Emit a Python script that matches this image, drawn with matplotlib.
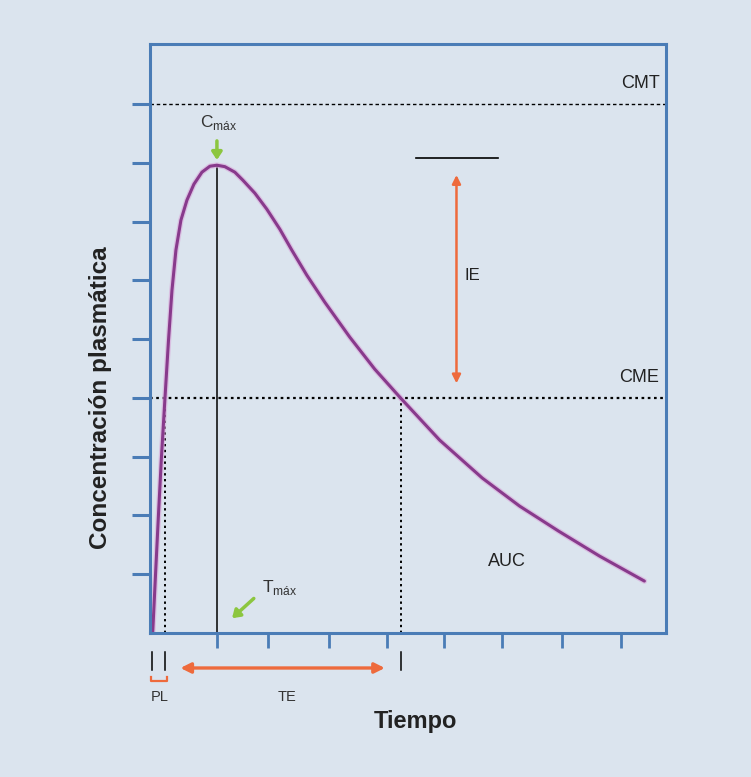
"""Curva de concentración plasmática tras una dosis: CMT, CME, Cmáx, Tmáx, PL, TE, IE, AUC."""
import matplotlib

matplotlib.use("Agg")
import matplotlib.pyplot as plt

tiempo = [0.046, 0.093, 0.144, 0.195, 0.255, 0.314, 0.374, 0.441, 0.526, 0.628, 0.747,
          0.883, 1.019, 1.138, 1.273, 1.443, 1.579, 1.783, 1.986, 2.207, 2.411, 2.666,
          2.971, 3.396, 3.820, 4.261, 4.924, 5.649, 6.282, 6.944, 7.640, 8.404]
concentracion = [0.0, 0.969, 2.007, 2.993, 3.997, 4.966, 5.833, 6.514, 7.024, 7.364, 7.636,
                 7.840, 7.942, 7.959, 7.934, 7.840, 7.704, 7.483, 7.211, 6.871, 6.514, 6.088,
                 5.629, 5.034, 4.490, 3.997, 3.282, 2.636, 2.160, 1.735, 1.310, 0.884]

# Niveles y tiempos característicos
CMT = 9.0
CME = 4.0
C_MAX = 7.96
T_MAX = 1.138
T_LATENCIA = 0.03     # inicio de la curva
T_CME_SUBE = 0.255    # cruce con CME al subir
T_CME_BAJA = 4.27     # cruce con CME al bajar

y_ticks = [1, 2, 3, 4, 5, 6, 7, 8, 9]
x_ticks = [1.138, 2.0, 3.04, 4.03, 4.99, 5.99, 7.0, 8.01]

FONDO = "#dbe4ee"
AZUL = "#4a7cb6"
MORADO = "#883a8c"
NARANJA = "#ee6a3c"
VERDE = "#8cc63f"

plt.rcParams["font.family"] = ["Liberation Sans", "DejaVu Sans"]

fig = plt.figure(figsize=(7.51, 7.77), dpi=100, facecolor=FONDO)
ax = fig.add_axes([0.1997, 0.1853, 0.687, 0.758], facecolor=FONDO)
ax.set_xlim(0, 8.77)
ax.set_ylim(0, 10.02)

for s in ax.spines.values():
    s.set_color(AZUL)
    s.set_linewidth(2.2)
ax.set_yticks(y_ticks)
ax.set_xticks(x_ticks)
ax.tick_params(axis="y", direction="out", length=13, width=2.2, color=AZUL, labelleft=False)
ax.tick_params(axis="x", direction="out", length=11, width=2.0, color=AZUL, labelbottom=False)

# Líneas de referencia
ax.axhline(CMT, color="black", lw=1.0, ls=(0, (2.5, 2)))
ax.axhline(CME, color="black", lw=1.6, ls=(0, (1.2, 1.6)))
ax.plot([T_CME_SUBE, T_CME_SUBE], [0, CME], color="black", lw=1.4, ls=(0, (1.2, 1.8)))
ax.plot([T_CME_BAJA, T_CME_BAJA], [0, CME], color="black", lw=1.4, ls=(0, (1.2, 1.8)))
ax.plot([T_MAX, T_MAX], [0, C_MAX], color="black", lw=1.1)

# Curva de concentración
ax.plot(tiempo, concentracion, color="#d9a6d9", lw=4.0, solid_capstyle="round",
        solid_joinstyle="round", alpha=0.6)
ax.plot(tiempo, concentracion, color=MORADO, lw=2.2, solid_capstyle="round",
        solid_joinstyle="round")

ax.text(8.66, CMT + 0.35, "CMT", ha="right", va="center", fontsize=13, color="#222222")
ax.text(8.66, CME + 0.34, "CME", ha="right", va="center", fontsize=13, color="#222222")
ax.text(6.06, 1.21, "AUC", ha="center", va="center", fontsize=13, color="#222222")

# Cmáx y Tmáx con flechas verdes
ax.text(1.17, 8.69, r"C$_{\mathregular{máx}}$", ha="center", va="center", fontsize=12.5,
        color="#333333")
ax.annotate("", xy=(T_MAX, C_MAX + 0.04), xytext=(T_MAX, 8.42),
            arrowprops=dict(arrowstyle="-|>,head_width=0.3,head_length=0.45", color=VERDE, lw=2.5))
ax.text(1.9, 0.77, r"T$_{\mathregular{máx}}$", ha="left", va="center", fontsize=12.5,
        color="#333333")
ax.annotate("", xy=(1.36, 0.22), xytext=(1.8, 0.62),
            arrowprops=dict(arrowstyle="-|>,head_width=0.3,head_length=0.45", color=VERDE, lw=2.5))

# Intervalo de eficacia (IE)
ax.plot([4.53, 5.91], [8.08, 8.08], color="black", lw=1.2)
ax.annotate("", xy=(5.21, 7.84), xytext=(5.21, 4.2),
            arrowprops=dict(arrowstyle="<|-|>,head_width=0.25,head_length=0.5", color=NARANJA, lw=1.8))
ax.text(5.35, 6.09, "IE", ha="left", va="center", fontsize=12, color="#222222")

# Marcas bajo el eje: periodo de latencia (PL) y tiempo eficaz (TE)
for xm in [T_LATENCIA, T_CME_SUBE, T_CME_BAJA]:
    ax.plot([xm, xm], [-0.33, -0.63], color="black", lw=1.1, clip_on=False)
ax.plot([0.012, 0.012, 0.283, 0.283], [-0.74, -0.81, -0.81, -0.74], color=NARANJA, lw=1.6,
        clip_on=False)
ax.annotate("", xy=(4.04, -0.595), xytext=(0.47, -0.595), annotation_clip=False,
            arrowprops=dict(arrowstyle="<|-|>,head_width=0.3,head_length=0.6", color=NARANJA, lw=2.4))
ax.text(0.17, -1.09, "PL", ha="center", va="center", fontsize=10.5, color="#333333", clip_on=False)
ax.text(2.33, -1.09, "TE", ha="center", va="center", fontsize=10.5, color="#333333", clip_on=False)

ax.set_xlabel("Tiempo", fontsize=17, fontweight="bold", color="#222222")
ax.xaxis.set_label_coords(0.514, -0.131)
ax.set_ylabel("Concentración plasmática", fontsize=17.5, fontweight="bold", color="#222222")
ax.yaxis.set_label_coords(-0.074, 0.399)

fig.savefig("out.png", dpi=100, facecolor=FONDO)
